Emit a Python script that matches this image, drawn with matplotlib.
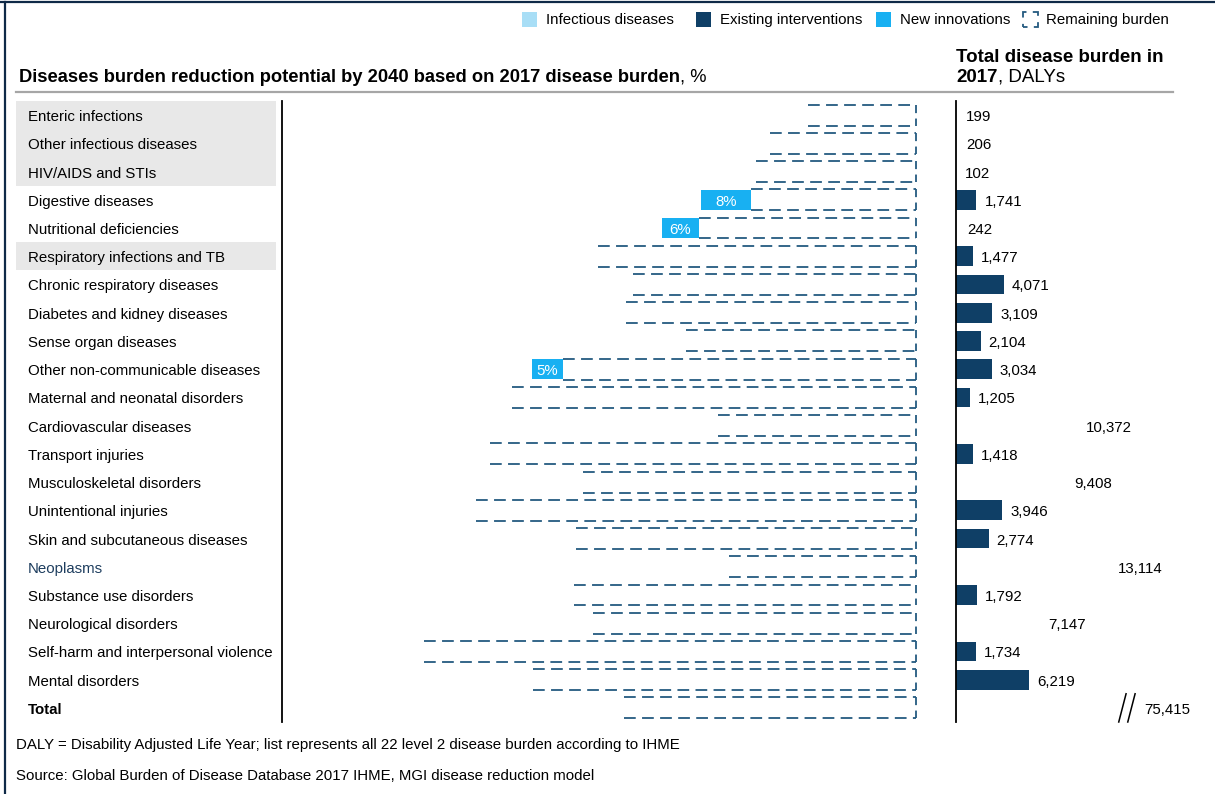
import matplotlib
matplotlib.use("Agg")
import matplotlib.pyplot as plt
from matplotlib.patches import Rectangle
from matplotlib.lines import Line2D

plt.rcParams["font.family"] = ["Liberation Sans", "DejaVu Sans"]

# ---- data ---------------------------------------------------------------
categories = [
    "Enteric infections", "Other infectious diseases", "HIV/AIDS and STIs",
    "Digestive diseases", "Nutritional deficiencies", "Respiratory infections and TB",
    "Chronic respiratory diseases", "Diabetes and kidney diseases", "Sense organ diseases",
    "Other non-communicable diseases", "Maternal and neonatal disorders",
    "Cardiovascular diseases", "Transport injuries", "Musculoskeletal disorders",
    "Unintentional injuries", "Skin and subcutaneous diseases", "Neoplasms",
    "Substance use disorders", "Neurological disorders",
    "Self-harm and interpersonal violence", "Mental disorders", "Total",
]
infectious = [
    "Enteric infections", "Other infectious diseases", "HIV/AIDS and STIs",
    "Respiratory infections and TB",
]
# share of 2017 burden, %
remaining_burden = [17.3, 23.4, 25.6, 26.4, 34.7, 50.9, 45.3, 46.4, 36.8, 56.5, 64.6,
                    31.7, 68.2, 53.3, 70.4, 54.4, 29.9, 54.7, 51.7, 78.7, 61.3, 46.7]
new_innovations = [0, 0, 0, 8, 6, 0, 0, 0, 0, 5, 0,
                   0, 0, 0, 0, 0, 0, 0, 0, 0, 0, 0]
# total disease burden in 2017, DALYs (thousands)
total_dalys = [199, 206, 102, 1741, 242, 1477, 4071, 3109, 2104, 3034, 1205,
               10372, 1418, 9408, 3946, 2774, 13114, 1792, 7147, 1734, 6219, 75415]

# ---- style --------------------------------------------------------------
C_INFECT = "#a8def6"
C_EXIST = "#0f3f66"
C_NEW = "#18b0f2"
C_DASH = "#245a80"
C_GREY_BG = "#e8e8e8"
C_FRAME = "#0f2a47"
FS = 10.8

W, H = 1215, 794
fig = plt.figure(figsize=(W / 100, H / 100), dpi=100)


def fx(x):
    return x / W


def fy(y):
    return 1 - y / H


n = len(categories)
top_px, bot_px = 101, 722
txt_dy = 2  # optical centring of text on rows (pixels)

# outer frame (top and left edges)
fig.add_artist(Line2D([0, 1], [fy(2), fy(2)], color=C_FRAME, lw=1.6))
fig.add_artist(Line2D([fx(5), fx(5)], [0, fy(2)], color=C_FRAME, lw=1.6))

# ---- left panel: reduction potential -----------------------------------
px_per_pct = 6.25
x0_px, base_px, x1_px = 282, 916, 930
axL = fig.add_axes([fx(x0_px), fy(bot_px), (x1_px - x0_px) / W, (bot_px - top_px) / H])
axL.set_xlim((base_px - x0_px) / px_per_pct, -(x1_px - base_px) / px_per_pct)
axL.set_ylim(n - 0.5, -0.5)
for s in ["top", "right", "bottom"]:
    axL.spines[s].set_visible(False)
axL.spines["left"].set_linewidth(1.3)
axL.spines["left"].set_color("black")
axL.set_xticks([])
axL.set_yticks([])
axL.patch.set_alpha(0)

h = 0.74
ys = list(range(n))
dash = (0, (6.5, 3.5))
for y, r in zip(ys, remaining_burden):
    # dashes run from the open (left) end towards the baseline
    axL.hlines([y - h / 2, y + h / 2], r, 0, colors=C_DASH, linestyles=[dash], lw=1.3)
    axL.vlines(0, y - h / 2, y + h / 2, colors=C_DASH, linestyles=[(0, (4.5, 3))], lw=1.3)
bars = axL.barh(ys, new_innovations, left=remaining_burden, height=h - 0.04,
                color=C_NEW, edgecolor="none")
for b, nv in zip(bars, new_innovations):
    if nv > 0:
        axL.annotate(f"{nv}%", (b.get_x() + b.get_width() / 2, b.get_y() + b.get_height() / 2),
                     xytext=(0, -txt_dy), textcoords="offset pixels",
                     color="white", ha="center", va="center", fontsize=FS)

# category labels with grey band for infectious diseases
row_px = (bot_px - top_px) / n
for i, name in enumerate(categories):
    yc = top_px + (i + 0.5) * row_px
    if name in infectious:
        fig.add_artist(Rectangle((fx(16), fy(yc + row_px / 2)), (276 - 16) / W, row_px / H,
                                 transform=fig.transFigure, facecolor=C_GREY_BG,
                                 edgecolor="none", zorder=0))
    color = "#1d3d5e" if name == "Neoplasms" else "black"
    weight = "bold" if name == "Total" else "normal"
    fig.text(fx(28), fy(yc + txt_dy), name, ha="left", va="center", fontsize=FS,
             color=color, fontweight=weight)

# ---- right panel: total burden -----------------------------------------
px_per_daly = 0.01174
r0_px, r1_px = 956, 1200
axR = fig.add_axes([fx(r0_px), fy(bot_px), (r1_px - r0_px) / W, (bot_px - top_px) / H])
axR.set_xlim(0, (r1_px - r0_px) / px_per_daly)
axR.set_ylim(n - 0.5, -0.5)
for s in ["top", "right", "bottom"]:
    axR.spines[s].set_visible(False)
axR.spines["left"].set_linewidth(1.3)
axR.spines["left"].set_color("black")
axR.set_xticks([])
axR.set_yticks([])
axR.patch.set_alpha(0)

low, cap = 300, 7000
shown = [v if low <= v <= cap else 0 for v in total_dalys[:-1]]
axR.barh(ys[:-1], shown, height=h - 0.04, color=C_EXIST, edgecolor="none")
for y, v in zip(ys[:-1], total_dalys[:-1]):
    axR.annotate(f"{v:,}", (v, y), xytext=(8, -txt_dy), textcoords="offset pixels",
                 ha="left", va="center", fontsize=FS)

# total row with axis break
yt = ys[-1]
brk = 0.667
for dx in (0.0, 0.037):
    axR.plot([brk + dx, brk + dx + 0.03], [yt + 0.5, yt - 0.5], color="black", lw=1.1,
             transform=axR.get_yaxis_transform(), clip_on=False)
axR.annotate(f"{total_dalys[-1]:,}", (0.773, yt), xycoords=axR.get_yaxis_transform(),
             xytext=(0, -txt_dy), textcoords="offset pixels",
             ha="left", va="center", fontsize=FS)

# ---- titles -------------------------------------------------------------
TFS = 13.2
t = fig.text(fx(19), fy(77), "Diseases burden reduction potential by 2040 based on 2017 disease burden",
             ha="left", va="center", fontsize=TFS, fontweight="bold")
fig.canvas.draw()
bb = t.get_window_extent()
fig.text(bb.x1 / W, fy(77), ", %", ha="left", va="center", fontsize=TFS)

HFS = 13.5
fig.text(fx(956), fy(57), "Total disease burden in", ha="left", va="center",
         fontsize=HFS, fontweight="bold")
t2 = fig.text(fx(956), fy(77), "2017", ha="left", va="center", fontsize=HFS, fontweight="bold")
fig.canvas.draw()
bb2 = t2.get_window_extent()
fig.text(bb2.x1 / W, fy(77), ", DALYs", ha="left", va="center", fontsize=HFS)

fig.add_artist(Line2D([fx(16), fx(1173)], [fy(92), fy(92)], color="#a6a6a6", lw=1.6))

# ---- legend -------------------------------------------------------------
sq = 15
legend_items = [
    (522, "Infectious diseases", C_INFECT),
    (696, "Existing interventions", C_EXIST),
    (876, "New innovations", C_NEW),
]
for x, label, col in legend_items:
    fig.add_artist(Rectangle((fx(x), fy(27)), sq / W, sq / H, transform=fig.transFigure,
                             facecolor=col, edgecolor="none"))
    fig.text(fx(x + 24), fy(20), label, ha="left", va="center", fontsize=FS)
fig.add_artist(Rectangle((fx(1023), fy(27)), sq / W, sq / H, transform=fig.transFigure,
                         facecolor="none", edgecolor=C_DASH, lw=1.3,
                         linestyle=(2.5, (5, 3.5))))
fig.text(fx(1046), fy(20), "Remaining burden", ha="left", va="center", fontsize=FS)

# ---- footnotes ----------------------------------------------------------
NFS = 10.8
fig.text(fx(16), fy(745), "DALY = Disability Adjusted Life Year; list represents all 22 level 2 "
         "disease burden according to IHME", ha="left", va="center", fontsize=NFS)
fig.text(fx(16), fy(776), "Source: Global Burden of Disease Database 2017 IHME, MGI disease "
         "reduction model", ha="left", va="center", fontsize=NFS)

fig.savefig("out.png", dpi=100)
